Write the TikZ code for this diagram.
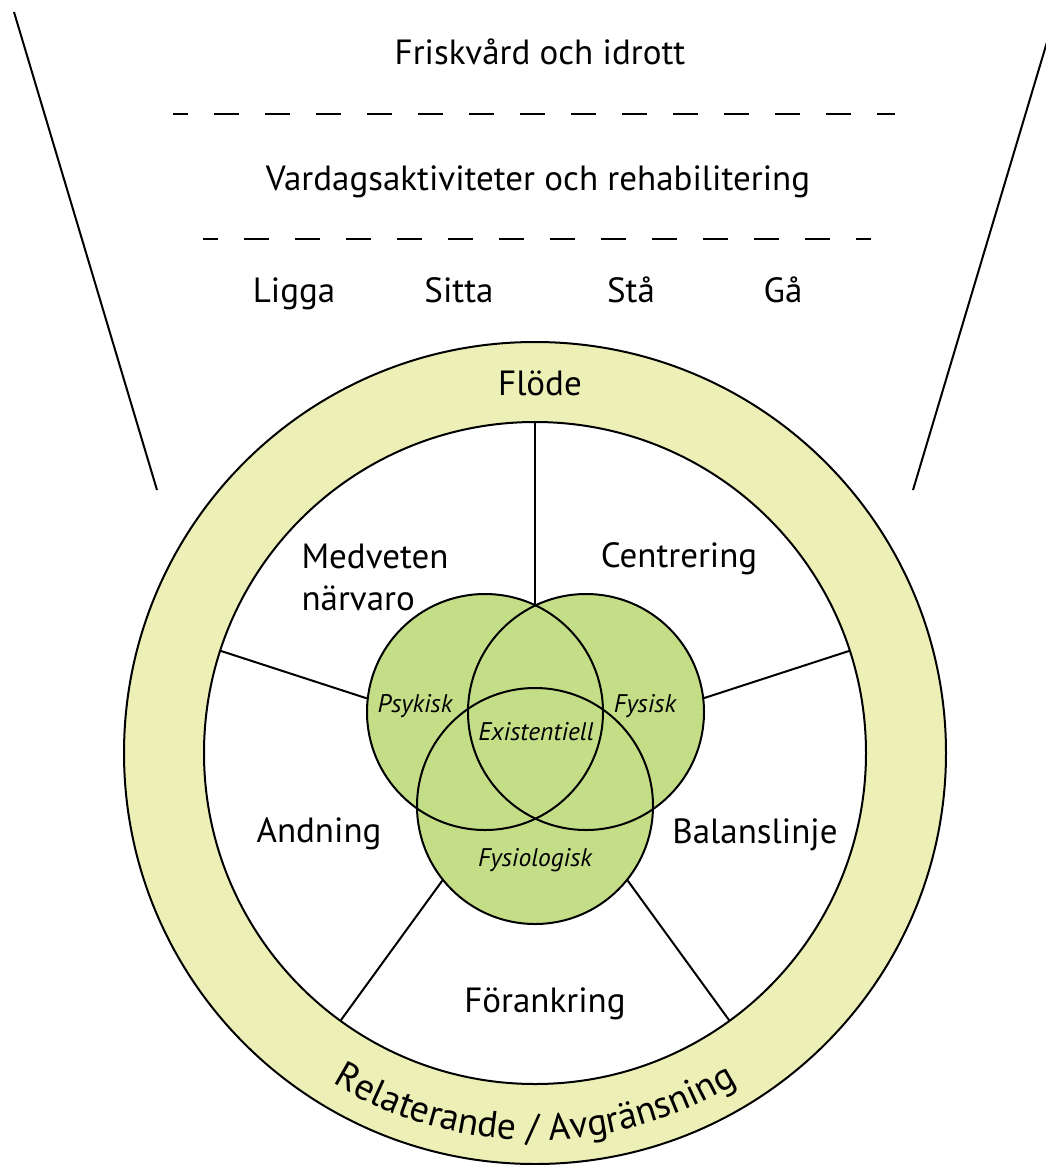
\documentclass[tikz,border=0pt]{standalone}
\usepackage{fontspec}
\setmainfont{PT Sans}
\usetikzlibrary{decorations.text}

\definecolor{ringgul}{RGB}{237,240,182}
\definecolor{venngron}{RGB}{196,221,135}

\tikzset{
    rubrik/.style={anchor=base, font=\fontsize{35}{42}\selectfont},
    venntext/.style={anchor=base, font=\fontsize{25.5}{30}\selectfont\itshape},
    linje/.style={line width=2pt},
    streck/.style={line width=2pt, dash pattern=on 25pt off 26pt, dash phase=10pt}
}

\begin{document}
\begin{tikzpicture}[x=1pt,y=1pt]
    \useasboundingbox (0,0) rectangle (1046,-1165);
    \clip (0,0) rectangle (1046,-1165);

    \coordinate (vt) at (14,-12);
    \coordinate (vb) at (157,-490);
    \coordinate (ht) at (1056,-12);
    \coordinate (hb) at (913,-490);
    \draw[linje] (vt) -- (vb);
    \draw[linje] (ht) -- (hb);

    \node[rubrik] (frisk) at (540,-64) {Friskvård och idrott};
    \coordinate (d1a) at (173,-114);
    \coordinate (d1b) at (895,-114);
    \draw[streck] (d1a) -- (d1b);
    \node[rubrik] (vardag) at (538,-190) {Vardagsaktiviteter och rehabilitering};
    \coordinate (d2a) at (203,-239);
    \coordinate (d2b) at (871,-239);
    \draw[streck] (d2a) -- (d2b);
    \node[rubrik] (ligga) at (294,-302) {Ligga};
    \node[rubrik] (sitta) at (459,-302) {Sitta};
    \node[rubrik] (sta) at (631,-302) {Stå};
    \node[rubrik] (ga) at (783,-302) {Gå};

    \coordinate (mitt) at (535,-753);
    \draw[linje, fill=ringgul] (mitt) circle (411pt);
    \draw[linje, fill=white] (mitt) circle (331pt);
    \foreach \v in {90,162,234,306,18}
        \draw[linje] (mitt) -- ++(\v:331pt);

    \coordinate (psyk) at (485,-712);
    \coordinate (fys) at (586,-712);
    \coordinate (fysio) at (535,-806);
    \fill[venngron] (psyk) circle (118pt) (fys) circle (118pt) (fysio) circle (118pt);
    \draw[linje] (psyk) circle (118pt);
    \draw[linje] (fys) circle (118pt);
    \draw[linje] (fysio) circle (118pt);

    \node[rubrik] (flode) at (540,-395) {Flöde};
    \node[rubrik, align=left] (medv) at (375,-610) {Medveten\\närvaro};
    \node[rubrik] (centr) at (679,-567) {Centrering};
    \node[rubrik] (andn) at (319,-842) {Andning};
    \node[rubrik] (balans) at (755,-843) {Balanslinje};
    \node[rubrik] (forank) at (545,-1012) {Förankring};

    \node[venntext] (psyktext) at (415,-712) {Psykisk};
    \node[venntext] (fystext) at (645,-712) {Fysisk};
    \node[venntext] (exist) at (536,-740) {Existentiell};
    \node[venntext] (fysiotext) at (535,-866) {Fysiologisk};

    \path[decorate, decoration={text along path, text align=center,
        text={|\fontsize{37.5}{44}\selectfont|Relaterande / Avgränsning}}]
        (mitt) ++(200:387pt) arc (200:340:387pt);
\end{tikzpicture}
\end{document}
